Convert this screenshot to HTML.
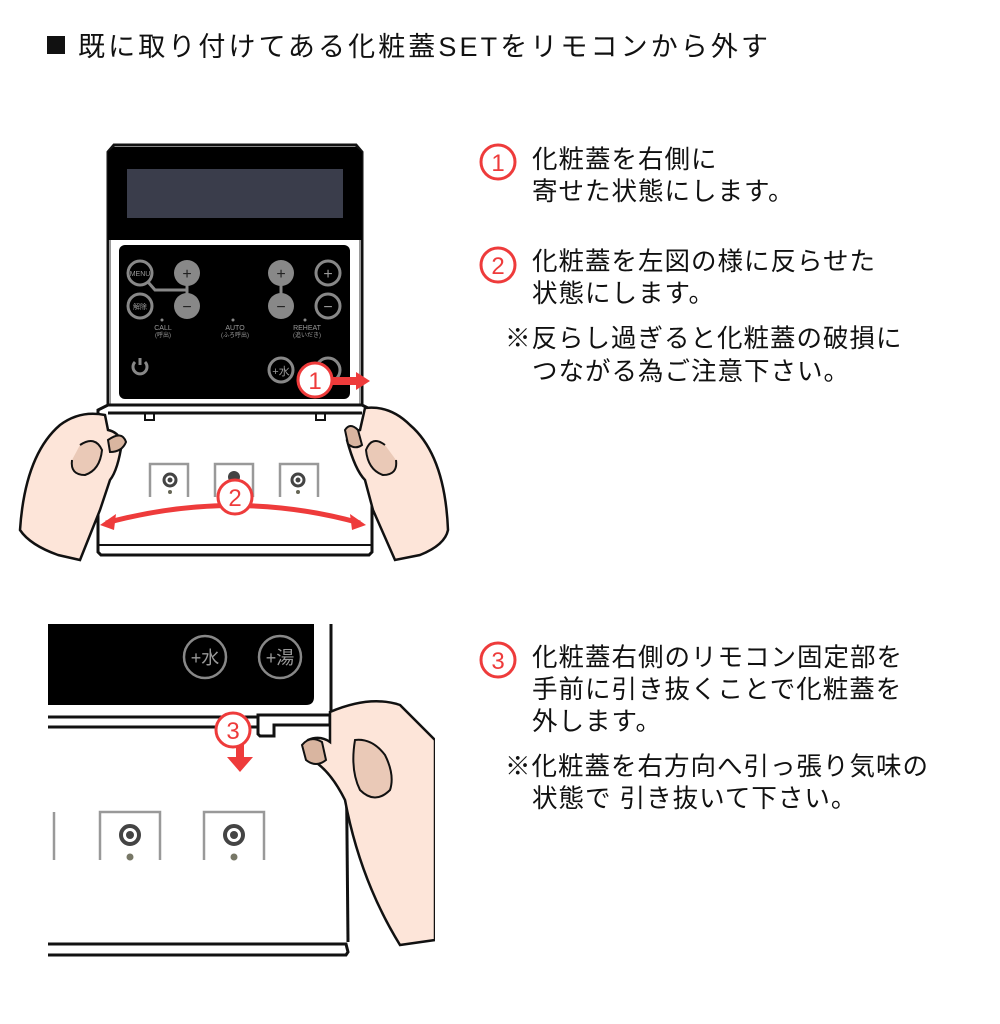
<!DOCTYPE html>
<html><head><meta charset="utf-8"><style>
html,body{margin:0;padding:0;background:#fff;}
svg{display:block;}
text{font-family:"Liberation Sans","Noto Sans CJK JP",sans-serif;}
</style></head><body>
<svg width="1000" height="1024" viewBox="0 0 1000 1024" xmlns="http://www.w3.org/2000/svg">
<rect x="47" y="36" width="18" height="18" fill="#111"/>
<text x="78" y="56" font-size="27" fill="#111" textLength="690" lengthAdjust="spacing">既に取り付けてある化粧蓋SETをリモコンから外す</text>

<path d="M108,152 L114,145 L356,145 L362,152 L362,410 L108,410 Z" fill="#fff" stroke="#111" stroke-width="3"/>
<path d="M108,152 L114,147 L356,147 L362,152 L362,240 L108,240 Z" fill="#000"/>
<rect x="127" y="169" width="216" height="49" fill="#3a3d4b"/>
<line x1="110" y1="240" x2="110" y2="410" stroke="#999" stroke-width="2"/>
<line x1="360" y1="240" x2="360" y2="410" stroke="#999" stroke-width="2"/>
<rect x="119" y="245" width="231" height="154" rx="6" fill="#000"/>
<g stroke="#888" stroke-width="3" fill="none">
<circle cx="140" cy="273" r="12"/>
<circle cx="140" cy="306" r="12"/>
<polyline points="148,282 155,290 187,290"/>
<circle cx="328" cy="273" r="12"/>
<circle cx="328" cy="306" r="12"/>
<circle cx="281" cy="370" r="12"/>
<circle cx="328" cy="370" r="12"/>
<path d="M135,362 A7,7 0 1 0 145,362" />
<line x1="140" y1="358" x2="140" y2="365"/>
</g>
<g fill="#888">
<circle cx="187" cy="273" r="13"/><circle cx="187" cy="306" r="13"/>
<circle cx="281" cy="273" r="13"/><circle cx="281" cy="306" r="13"/>
<line x1="187" y1="280" x2="187" y2="300" stroke="#888" stroke-width="3"/>
<line x1="281" y1="280" x2="281" y2="300" stroke="#888" stroke-width="3"/>
<circle cx="162" cy="320" r="1.5"/><circle cx="233" cy="320" r="1.5"/><circle cx="305" cy="320" r="1.5"/>
</g>
<g fill="#222" font-size="16" text-anchor="middle">
<text x="187" y="279">+</text><text x="187" y="312">−</text>
<text x="281" y="279">+</text><text x="281" y="312">−</text>
</g>
<g fill="#999" text-anchor="middle">
<text x="328" y="279" font-size="16">+</text><text x="328" y="312" font-size="16">−</text>
<text x="140" y="276" font-size="7">MENU</text>
<text x="140" y="309" font-size="7">解除</text>
<text x="163" y="330" font-size="7">CALL</text><text x="163" y="337" font-size="6">(呼出)</text>
<text x="235" y="330" font-size="7">AUTO</text><text x="235" y="337" font-size="6">(ふろ呼出)</text>
<text x="307" y="330" font-size="7">REHEAT</text><text x="307" y="337" font-size="6">(追いだき)</text>
<text x="281" y="375" font-size="11">+水</text>
</g>
<path d="M108,405 L362,405 L372,410 L372,552 L369,555 L101,555 L98,552 L98,410 Z" fill="#fff" stroke="#111" stroke-width="3"/>
<line x1="108" y1="413" x2="362" y2="413" stroke="#111" stroke-width="3"/>
<path d="M145,413 L145,420 L154,420 L154,413" fill="none" stroke="#111" stroke-width="2"/>
<path d="M316,413 L316,420 L325,420 L325,413" fill="none" stroke="#111" stroke-width="2"/>
<line x1="98" y1="545" x2="372" y2="545" stroke="#111" stroke-width="2"/>
<g fill="none" stroke="#999" stroke-width="2.5">
<polyline points="150,497 150,464 188,464 188,497"/>
<polyline points="215,497 215,464 253,464 253,497"/>
<polyline points="280,497 280,464 318,464 318,497"/>
</g>
<g fill="#444"><circle cx="170" cy="480" r="6" fill="none" stroke="#444" stroke-width="3"/><circle cx="170" cy="480" r="2.5"/><circle cx="170" cy="492" r="2" fill="#665"/>
<circle cx="298" cy="480" r="6" fill="none" stroke="#444" stroke-width="3"/><circle cx="298" cy="480" r="2.5"/><circle cx="298" cy="492" r="2" fill="#665"/>
<circle cx="234" cy="477" r="6"/></g>
<path d="M20,530 Q25,455 60,425 Q80,410 105,415 L108,430 Q118,432 122,442 Q118,470 110,480 L100,510 L80,560 L58,555 Q30,545 20,530 Z" fill="#fde5d9" stroke="#111" stroke-width="2.5"/>
<path d="M80,445 Q95,435 102,450 Q100,470 85,475 Q70,475 72,460" fill="#eac9b7" stroke="#111" stroke-width="2"/>
<path d="M108,440 Q122,430 126,442 Q122,452 110,452 Z" fill="#d9b5a0" stroke="#111" stroke-width="2"/>
<path d="M448,530 Q445,455 410,425 Q390,405 365,408 L360,430 Q348,432 347,440 Q355,470 365,480 L373,510 L395,560 L420,555 Q445,545 448,530 Z" fill="#fde5d9" stroke="#111" stroke-width="2.5"/>
<path d="M385,445 Q372,435 366,450 Q368,470 383,475 Q398,475 396,460" fill="#eac9b7" stroke="#111" stroke-width="2"/>
<path d="M345,430 Q350,422 358,430 L362,445 Q355,450 348,444 Z" fill="#d9b5a0" stroke="#111" stroke-width="2"/>
<path d="M106,523 Q234,488 360,523" fill="none" stroke="#ee3b3b" stroke-width="5"/>
<polygon points="100,525 116,514 114,530" fill="#ee3b3b"/>
<polygon points="366,525 350,514 352,530" fill="#ee3b3b"/>
<rect x="330" y="377" width="28" height="8" fill="#ee3b3b"/>
<polygon points="356,372 370,381 356,390" fill="#ee3b3b"/>
<circle cx="315" cy="380" r="17" fill="#fff" stroke="#ee3b3b" stroke-width="3"/>
<text x="315" y="389" font-size="24" fill="#ee3b3b" text-anchor="middle">1</text>
<circle cx="235" cy="497" r="17" fill="#fff" stroke="#ee3b3b" stroke-width="3"/>
<text x="235" y="506" font-size="24" fill="#ee3b3b" text-anchor="middle">2</text>

<path d="M48,624 L314,624 L314,697 Q314,705 306,705 L48,705 Z" fill="#000"/>
<line x1="331" y1="624" x2="331" y2="712" stroke="#111" stroke-width="3"/>
<g stroke="#888" stroke-width="2.5" fill="none"><circle cx="205" cy="657" r="21"/><circle cx="280" cy="657" r="21"/></g>
<g fill="#999" font-size="18" text-anchor="middle"><text x="205" y="664">+水</text><text x="280" y="664">+湯</text></g>
<line x1="48" y1="717" x2="258" y2="717" stroke="#111" stroke-width="3"/>
<line x1="48" y1="727" x2="258" y2="727" stroke="#111" stroke-width="3"/>
<path d="M258,715 L330,715 L330,725 L274,725 L274,736 L260,736 L258,734 Z" fill="#fff" stroke="#111" stroke-width="3"/>
<line x1="346" y1="730" x2="348" y2="942" stroke="#111" stroke-width="3"/>
<path d="M48,944 L346,944 L348,952 L346,955 L48,955" fill="none" stroke="#111" stroke-width="3"/>
<g fill="none" stroke="#999" stroke-width="2.5">
<polyline points="54,860 54,812"/>
<polyline points="100,860 100,812 160,812 160,860"/>
<polyline points="204,860 204,812 264,812 264,860"/>
</g>
<g fill="#444"><circle cx="130" cy="835" r="9" fill="none" stroke="#444" stroke-width="4"/><circle cx="130" cy="835" r="4"/><circle cx="130" cy="857" r="3.5" fill="#776"/>
<circle cx="234" cy="835" r="9" fill="none" stroke="#444" stroke-width="4"/><circle cx="234" cy="835" r="4"/><circle cx="234" cy="857" r="3.5" fill="#776"/></g>
<path d="M330,712 Q370,695 400,705 L435,740 L435,940 L400,945 Q360,880 345,800 Q330,770 312,760 Q300,748 308,740 Q320,735 330,742 Z" fill="#fde5d9" stroke="#111" stroke-width="2.5"/>
<path d="M355,740 Q372,738 385,755 Q395,775 390,790 Q375,805 360,790 Q350,770 355,740 Z" fill="#eac9b7" stroke="#111" stroke-width="2"/>
<path d="M302,745 Q310,735 322,742 L326,760 Q316,768 306,760 Z" fill="#d9b5a0" stroke="#111" stroke-width="2"/>
<rect x="435" y="700" width="10" height="250" fill="#fff"/>
<rect x="236" y="742" width="8" height="18" fill="#ee3b3b"/>
<polygon points="227,757 253,757 240,772" fill="#ee3b3b"/>
<circle cx="233" cy="730" r="17" fill="#fff" stroke="#ee3b3b" stroke-width="3"/>
<text x="233" y="739" font-size="24" fill="#ee3b3b" text-anchor="middle">3</text>

<g font-size="25.5" fill="#111" letter-spacing="1">
<circle cx="498" cy="162" r="17" fill="#fff" stroke="#ee3b3b" stroke-width="3"/>
<text x="498" y="171" font-size="24" letter-spacing="0" fill="#ee3b3b" text-anchor="middle">1</text>
<text x="532" y="168">化粧蓋を右側に</text>
<text x="532" y="200">寄せた状態にします。</text>
<circle cx="498" cy="265" r="17" fill="#fff" stroke="#ee3b3b" stroke-width="3"/>
<text x="498" y="274" font-size="24" letter-spacing="0" fill="#ee3b3b" text-anchor="middle">2</text>
<text x="532" y="270">化粧蓋を左図の様に反らせた</text>
<text x="532" y="302">状態にします。</text>
<text x="505" y="347">※反らし過ぎると化粧蓋の破損に</text>
<text x="532" y="380">つながる為ご注意下さい。</text>
<circle cx="498" cy="660" r="17" fill="#fff" stroke="#ee3b3b" stroke-width="3"/>
<text x="498" y="669" font-size="24" letter-spacing="0" fill="#ee3b3b" text-anchor="middle">3</text>
<text x="532" y="666">化粧蓋右側のリモコン固定部を</text>
<text x="532" y="698">手前に引き抜くことで化粧蓋を</text>
<text x="532" y="730">外します。</text>
<text x="505" y="775">※化粧蓋を右方向へ引っ張り気味の</text>
<text x="532" y="807">状態で 引き抜いて下さい。</text>
</g>
</svg>
</body></html>
